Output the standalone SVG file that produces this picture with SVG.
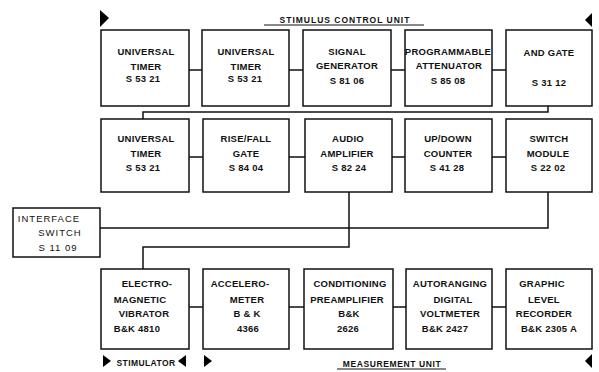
<svg xmlns="http://www.w3.org/2000/svg" width="599" height="372" viewBox="0 0 599 372">
<style>
.box{fill:#fff;stroke:#111;stroke-width:1.5}
.w{stroke:#111;stroke-width:1.5;fill:none}
text{font-family:"Liberation Sans",Arial,sans-serif;font-size:9.5px;font-weight:bold;fill:#111;text-anchor:middle;letter-spacing:0.25px}
.lbl{font-size:8.5px;letter-spacing:1px}
.thin{font-weight:normal;letter-spacing:1px}
.tri{fill:#000}
</style>
<rect width="599" height="372" fill="#fff"/>
<g id="connectors">
<path class="w" d="M189 70H202M289 70H303M391 70H405M492 70H506"/>
<path class="w" d="M189 157H203M289 157H305M392 157H405M492 157H506"/>
<path class="w" d="M189 307H203M289 307H304M393 307H406M492 307H506"/>
<path class="w" d="M548 106V112H143V119"/>
<path class="w" d="M100 228H548V192"/>
<path class="w" d="M349 192V247H143V269"/>
</g>
<g id="header">
<polygon class="tri" points="100,10 109,18 100,27"/>
<polygon class="tri" points="592,13 585,20 592,27"/>
<text class="lbl" x="345" y="23">STIMULUS  CONTROL  UNIT</text>
<line class="w" x1="264" y1="25" x2="424" y2="25" style="stroke-width:1"/>
</g>
<g id="n1"><rect class="box" x="101" y="30" width="88" height="76"/><text x="146" y="55">UNIVERSAL</text><text x="146" y="70">TIMER</text><text x="143" y="82">S 53 21</text></g>
<g id="n2"><rect class="box" x="202" y="30" width="87" height="76"/><text x="246" y="55">UNIVERSAL</text><text x="246" y="70">TIMER</text><text x="245" y="82">S 53 21</text></g>
<g id="n3"><rect class="box" x="303" y="30" width="88" height="76"/><text x="347" y="55">SIGNAL</text><text x="347" y="69">GENERATOR</text><text x="347" y="84">S 81 06</text></g>
<g id="n4"><rect class="box" x="405" y="30" width="87" height="76"/><text x="448" y="55">PROGRAMMABLE</text><text x="449" y="69">ATTENUATOR</text><text x="448" y="84">S 85 08</text></g>
<g id="n5"><rect class="box" x="506" y="30" width="86" height="76"/><text x="549" y="56">AND GATE</text><text x="549" y="86">S 31 12</text></g>
<g id="n6"><rect class="box" x="101" y="119" width="88" height="73"/><text x="146" y="142">UNIVERSAL</text><text x="146" y="157">TIMER</text><text x="143" y="171">S 53 21</text></g>
<g id="n7"><rect class="box" x="203" y="119" width="86" height="73"/><text x="246" y="142">RISE/FALL</text><text x="246" y="157">GATE</text><text x="246" y="171">S 84 04</text></g>
<g id="n8"><rect class="box" x="305" y="119" width="87" height="73"/><text x="348" y="142">AUDIO</text><text x="347" y="157">AMPLIFIER</text><text x="349" y="171">S 82 24</text></g>
<g id="n9"><rect class="box" x="405" y="119" width="87" height="73"/><text x="448" y="142">UP/DOWN</text><text x="448" y="157">COUNTER</text><text x="447" y="171">S 41 28</text></g>
<g id="n10"><rect class="box" x="506" y="119" width="86" height="73"/><text x="549" y="142">SWITCH</text><text x="548" y="157">MODULE</text><text x="548" y="171">S 22 02</text></g>
<g id="n11"><rect class="box" x="13" y="208" width="87" height="49"/><text class="thin" x="49" y="222">INTERFACE</text><text class="thin" x="60" y="236">SWITCH</text><text class="thin" x="58" y="251">S 11 09</text></g>
<g id="n12"><rect class="box" x="101" y="269" width="88" height="80"/><text x="147" y="287">ELECTRO-</text><text x="140" y="303">MAGNETIC</text><text x="144" y="317">VIBRATOR</text><text x="137" y="332">B&amp;K 4810</text></g>
<g id="n13"><rect class="box" x="203" y="269" width="86" height="80"/><text x="240" y="287">ACCELERO-</text><text x="247" y="303">METER</text><text x="247" y="317">B &amp; K</text><text x="248" y="332">4366</text></g>
<g id="n14"><rect class="box" x="304" y="269" width="89" height="80"/><text x="350" y="287">CONDITIONING</text><text x="347" y="303">PREAMPLIFIER</text><text x="349" y="317">B&amp;K</text><text x="348" y="332">2626</text></g>
<g id="n15"><rect class="box" x="406" y="269" width="86" height="80"/><text x="450" y="287">AUTORANGING</text><text x="453" y="303">DIGITAL</text><text x="450" y="317">VOLTMETER</text><text x="445" y="332">B&amp;K 2427</text></g>
<g id="n16"><rect class="box" x="506" y="269" width="86" height="80"/><text x="542" y="287">GRAPHIC</text><text x="544" y="303">LEVEL</text><text x="544" y="317">RECORDER</text><text x="549" y="332">B&amp;K 2305 A</text></g>
<g id="footer">
<polygon class="tri" points="103,355 111,361 103,367"/>
<text class="lbl" x="146" y="366" style="letter-spacing:0.4px">STIMULATOR</text>
<polygon class="tri" points="186,355 178,361 186,367"/>
<polygon class="tri" points="204,355 212,361 204,367"/>
<text class="lbl" x="392" y="367" style="letter-spacing:0.6px">MEASUREMENT  UNIT</text>
<line class="w" x1="337" y1="369" x2="446" y2="369" style="stroke-width:1"/>
<polygon class="tri" points="592,354 585,361 592,368"/>
</g>
</svg>
